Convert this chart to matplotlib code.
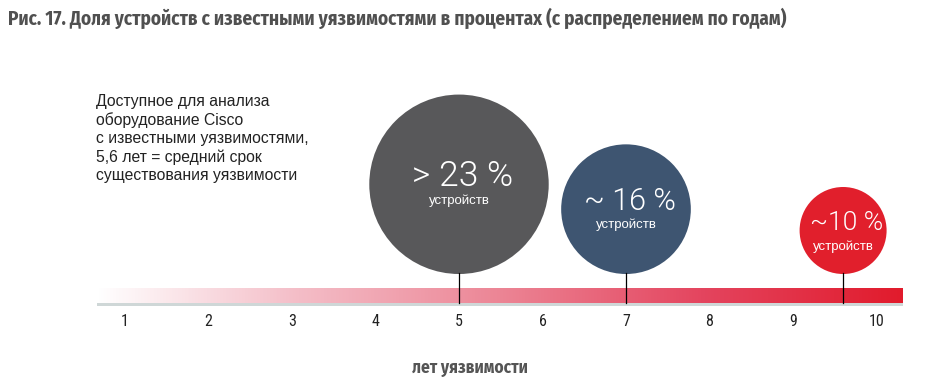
import numpy as np
import matplotlib.pyplot as plt
from matplotlib.colors import LinearSegmentedColormap
from matplotlib.patches import Circle, Rectangle

# data
years = [1, 2, 3, 4, 5, 6, 7, 8, 9, 10]
share_pos = [5, 7, 9.6]          # position on the years axis
share_pct = [23, 16, 10]         # percent of devices
share_txt = ["> 23 %", "~ 16 %", "~10 %"]
share_sub = ["устройств", "устройств", "устройств"]
share_col = ["#58585a", "#3e5571", "#e11f2c"]

title = "Рис. 17. Доля устройств с известными уязвимостями в процентах (с распределением по годам)"
note = ("Доступное для анализа\nоборудование Cisco\nс известными уязвимостями,\n"
        "5,6 лет = средний срок\nсуществования уязвимости")
xlabel = "лет уязвимости"

BOLDN = ["Fira Sans Condensed", "DejaVu Sans"]
COND = ["Roboto Condensed", "DejaVu Sans"]
LIGHT = ["Roboto", "DejaVu Sans"]
SANS = ["Liberation Sans", "DejaVu Sans"]

W, H = 937, 387
PX = 83.5                      # pixels per year
fig = plt.figure(figsize=(W / 100, H / 100), dpi=100)
ax = fig.add_axes([0, 0, 1, 1])
x0 = 1 - 125 / PX
ax.set_xlim(x0, x0 + W / PX)
ylo = -84 / PX
ax.set_ylim(ylo, ylo + H / PX)
ax.axis("off")

# gradient bar
cmap = LinearSegmentedColormap.from_list(
    "bar", ["#ffffff", "#f4bdc7", "#ec8595", "#e4455f", "#e11b2c"])
bx0, bx1 = 1 - 28 / PX, 1 + 778 / PX
bh = 15 / PX
grad = np.linspace(0, 1, 512).reshape(1, -1)
ax.imshow(grad, cmap=cmap, extent=[bx0, bx1, 0, bh], aspect="auto", zorder=1)
ax.add_patch(Rectangle((bx0, -2.5 / PX), bx1 - bx0, 2.5 / PX,
                       color="#cfd7d7", lw=0, zorder=1))

# bubbles
base = 29 / PX
for pos, pct, txt, sub, col in zip(share_pos, share_pct, share_txt, share_sub, share_col):
    r = (3.555 * pct + 7.95) / PX
    cy = base + r
    ax.add_patch(Circle((pos, cy), r, color=col, lw=0, zorder=3))
    ax.plot([pos, pos], [0, base + 1 / PX], color="black", lw=0.9, zorder=4)
    ax.text(pos + 4 / PX, cy + 8 / PX, txt, color="white", fontsize=14 + 0.5 * pct,
            family=LIGHT, weight=300, ha="center", va="center", zorder=5)
    ax.text(pos, cy - 16 / PX, sub, color="white", fontsize=9.5,
            family=SANS, ha="center", va="center", zorder=5)

# tick labels
for yv in years:
    ax.text(yv, -19 / PX, str(yv), fontsize=11.5, family=COND,
            color="#222222", ha="center", va="center")

ax.text(470 / PX + x0, -65 / PX, xlabel, fontsize=12.5, family=BOLDN,
        weight="bold", color="#555555", ha="center", va="center")

fig.text(8 / W, 1 - 18 / H, title, fontsize=13.8, family=BOLDN,
         weight="bold", color="#505050", ha="left", va="center")
fig.text(96 / W, 1 - 94 / H, note, fontsize=11.3, family=SANS,
         color="#222222", ha="left", va="top", linespacing=1.26)

fig.savefig("out.png", dpi=100)
